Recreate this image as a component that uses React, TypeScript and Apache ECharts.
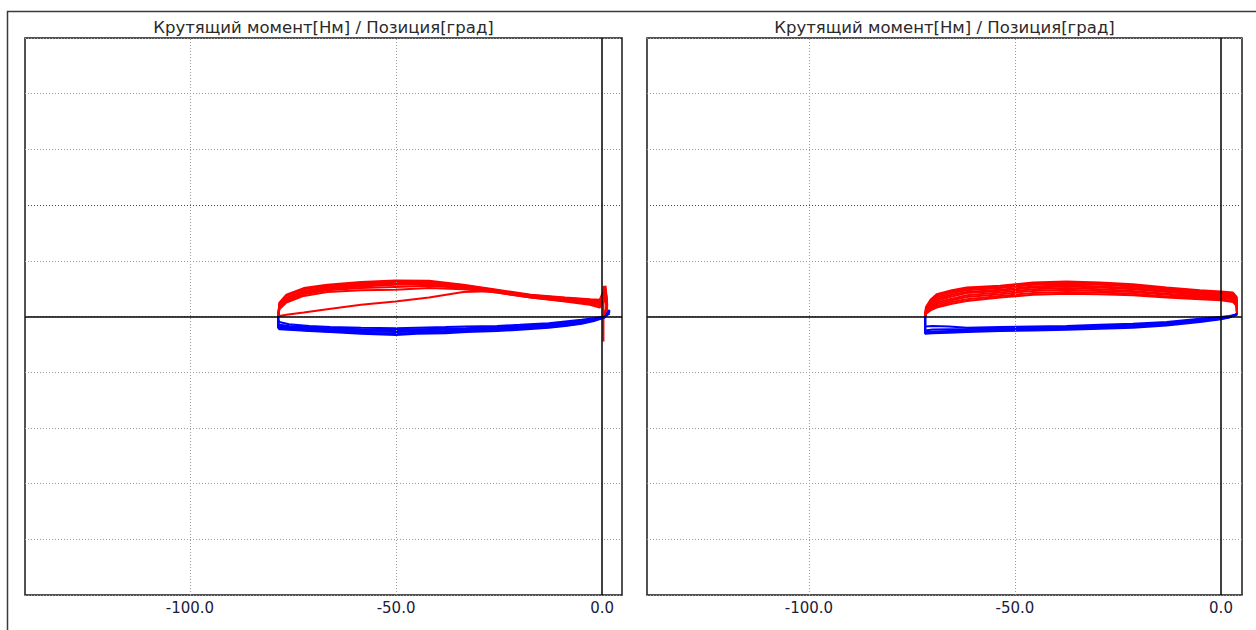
import React, { useEffect, useRef } from "react";
import * as echarts from "echarts";

const TITLE = "Крутящий момент[Нм] / Позиция[град]";
const X_TICKS = [-100, -50, 0];
const LIMIT_Y = 2;

// Left chart — red (positive torque) cycles
const leftRedX = [-78.6, -78.3, -76.6, -72.4, -66.7, -58.5, -50.2, -42, -33.7, -25.5, -17.3, -9, -3, -0.6, 0.8, 1.2, 0.5];
const leftRedCycles = [
  [0.0, 0.25, 0.39, 0.51, 0.57, 0.62, 0.645, 0.64, 0.57, 0.48, 0.39, 0.34, 0.31, 0.3, 0.55, 0.25, 0.0],
  [0.0, 0.23, 0.37, 0.49, 0.55, 0.6, 0.63, 0.62, 0.56, 0.47, 0.38, 0.33, 0.3, 0.28, 0.5, 0.22, 0.0],
  [0.0, 0.21, 0.34, 0.46, 0.53, 0.58, 0.61, 0.6, 0.55, 0.46, 0.37, 0.32, 0.28, 0.26, 0.45, 0.2, 0.0],
  [0.0, 0.19, 0.32, 0.44, 0.51, 0.56, 0.59, 0.59, 0.54, 0.45, 0.36, 0.3, 0.26, 0.24, 0.42, 0.18, 0.0],
  [0.0, 0.17, 0.3, 0.42, 0.49, 0.54, 0.57, 0.58, 0.53, 0.44, 0.35, 0.29, 0.25, 0.22, 0.38, 0.15, 0.0],
  [0.0, 0.15, 0.27, 0.4, 0.47, 0.51, 0.53, 0.55, 0.51, 0.43, 0.34, 0.28, 0.23, 0.19, 0.34, 0.12, 0.0],
  [0.0, 0.13, 0.25, 0.37, 0.44, 0.47, 0.48, 0.51, 0.49, 0.43, 0.34, 0.27, 0.21, 0.16, 0.3, 0.1, 0.0],
  [0.0, 0.01, 0.03, 0.07, 0.13, 0.21, 0.27, 0.34, 0.44, 0.46, 0.37, 0.3, 0.27, 0.24, 0.5, 0.2, 0.0],
];
const leftSpikeX = [0.3, 0.3];
const leftSpikeY = [0.55, -0.45];

// Left chart — blue (negative torque) cycles
const leftBlueX = [1.8, 0.5, -2, -5, -9, -13, -20, -25.5, -33, -38, -45, -50, -58.5, -66, -71, -76, -78.3, -78.6, -78.6];
const leftBlueCycles = [
  [0.12, -0.02, -0.08, -0.13, -0.17, -0.2, -0.24, -0.26, -0.28, -0.3, -0.31, -0.33, -0.31, -0.28, -0.26, -0.24, -0.23, -0.2, 0.0],
  [0.11, -0.02, -0.07, -0.12, -0.16, -0.19, -0.22, -0.24, -0.26, -0.28, -0.29, -0.31, -0.29, -0.27, -0.25, -0.23, -0.22, -0.19, 0.0],
  [0.1, -0.01, -0.06, -0.1, -0.14, -0.17, -0.2, -0.22, -0.24, -0.26, -0.27, -0.28, -0.27, -0.25, -0.23, -0.21, -0.2, -0.17, 0.0],
  [0.09, -0.01, -0.05, -0.09, -0.13, -0.16, -0.19, -0.21, -0.23, -0.24, -0.25, -0.26, -0.25, -0.23, -0.21, -0.19, -0.18, -0.14, 0.0],
  [0.08, -0.01, -0.05, -0.08, -0.11, -0.14, -0.17, -0.19, -0.21, -0.22, -0.23, -0.24, -0.23, -0.21, -0.19, -0.17, -0.15, -0.12, 0.0],
  [0.05, 0.0, -0.03, -0.06, -0.09, -0.12, -0.15, -0.17, -0.18, -0.19, -0.2, -0.21, -0.2, -0.19, -0.17, -0.14, -0.1, -0.06, 0.0],
];

// Right chart — red cycles
const rightRedX = [-71.8, -71.6, -70.5, -69, -65.3, -61.7, -53.6, -45.6, -37.5, -29.4, -21.4, -13.2, -5.1, 0, 2.9, 3.8, 3.9];
const rightRedCycles = [
  [0.0, 0.17, 0.3, 0.4, 0.47, 0.52, 0.55, 0.61, 0.63, 0.61, 0.58, 0.52, 0.47, 0.45, 0.43, 0.35, 0.03],
  [0.0, 0.15, 0.27, 0.37, 0.45, 0.5, 0.53, 0.59, 0.61, 0.59, 0.56, 0.5, 0.45, 0.43, 0.41, 0.33, 0.03],
  [0.0, 0.13, 0.25, 0.34, 0.42, 0.47, 0.51, 0.57, 0.59, 0.57, 0.54, 0.48, 0.43, 0.41, 0.39, 0.3, 0.03],
  [0.0, 0.11, 0.22, 0.31, 0.39, 0.44, 0.48, 0.54, 0.56, 0.54, 0.51, 0.46, 0.41, 0.39, 0.37, 0.28, 0.03],
  [0.0, 0.1, 0.2, 0.28, 0.36, 0.42, 0.46, 0.52, 0.54, 0.52, 0.49, 0.44, 0.39, 0.37, 0.35, 0.26, 0.03],
  [0.0, 0.08, 0.17, 0.25, 0.32, 0.38, 0.43, 0.49, 0.51, 0.49, 0.46, 0.41, 0.37, 0.35, 0.33, 0.24, 0.03],
  [0.0, 0.07, 0.15, 0.22, 0.29, 0.35, 0.4, 0.46, 0.48, 0.46, 0.44, 0.39, 0.35, 0.33, 0.31, 0.22, 0.03],
  [0.0, 0.06, 0.13, 0.19, 0.26, 0.31, 0.37, 0.42, 0.44, 0.43, 0.41, 0.36, 0.33, 0.31, 0.28, 0.2, 0.03],
  [0.0, 0.05, 0.11, 0.16, 0.23, 0.28, 0.34, 0.39, 0.41, 0.4, 0.38, 0.34, 0.31, 0.29, 0.26, 0.19, 0.03],
];

// Right chart — blue cycles
const rightBlueX = [3.9, 2, 0, -5.1, -13.2, -21.4, -29.4, -37.5, -45.6, -53.6, -61.7, -66, -70, -71.8, -71.8];
const rightBlueCycles = [
  [0.05, -0.02, -0.05, -0.1, -0.16, -0.2, -0.22, -0.24, -0.25, -0.26, -0.28, -0.29, -0.3, -0.31, 0.0],
  [0.045, -0.015, -0.04, -0.085, -0.145, -0.185, -0.205, -0.225, -0.235, -0.245, -0.265, -0.275, -0.285, -0.3, 0.0],
  [0.04, -0.01, -0.03, -0.07, -0.13, -0.17, -0.19, -0.21, -0.22, -0.23, -0.25, -0.26, -0.27, -0.28, 0.0],
  [0.035, 0.0, -0.02, -0.055, -0.115, -0.15, -0.17, -0.19, -0.2, -0.21, -0.225, -0.23, -0.235, -0.25, 0.0],
  [0.03, 0.01, -0.01, -0.04, -0.1, -0.13, -0.15, -0.17, -0.18, -0.19, -0.2, -0.18, -0.17, -0.18, 0.0],
];

const RED = "#ff0000";
const BLUE = "#0000ff";

const zip = (xs: number[], ys: number[]) => xs.map((x, i) => [x, ys[i]]);

function lineSeries(idx: number, xs: number[], ys: number[], color: string, z: number) {
  return {
    type: "line",
    xAxisIndex: idx,
    yAxisIndex: idx,
    data: zip(xs, ys),
    showSymbol: false,
    symbol: "none",
    silent: true,
    z,
    lineStyle: { color, width: 2 },
  };
}

function guideSeries(idx: number) {
  const grey = { color: "#9a9a9a", width: 1, type: [1, 2] };
  return {
    type: "line",
    xAxisIndex: idx,
    yAxisIndex: idx,
    data: [],
    silent: true,
    z: 1,
    markLine: {
      symbol: ["none", "none"],
      silent: true,
      animation: false,
      label: { show: false },
      data: [
        ...X_TICKS.filter((v) => v !== 0).map((v) => ({ xAxis: v, lineStyle: grey })),
        { yAxis: LIMIT_Y, lineStyle: { color: "#ff0000", width: 1, type: [1, 2] } },
        { xAxis: 0, lineStyle: { color: "#000", width: 1.5, type: "solid" } },
        { yAxis: 0, lineStyle: { color: "#000", width: 1.5, type: "solid" } },
      ],
    },
  };
}

export default function App() {
  const ref = useRef<HTMLDivElement>(null);
  useEffect(() => {
    if (!ref.current) return;
    const chart = echarts.init(ref.current, null, { renderer: "svg" });
    const grids = [
      { left: 25, top: 38, width: 597, height: 557 },
      { left: 647, top: 38, width: 595, height: 557 },
    ];
    const xRanges = [
      [-140, 4.8],
      [-139.3, 5.1],
    ];
    const series: any[] = [guideSeries(0), guideSeries(1)];
    leftRedCycles.forEach((ys) => series.push(lineSeries(0, leftRedX, ys, RED, 3)));
    series.push(lineSeries(0, leftSpikeX, leftSpikeY, RED, 3));
    leftBlueCycles.forEach((ys) => series.push(lineSeries(0, leftBlueX, ys, BLUE, 4)));
    rightRedCycles.forEach((ys) => series.push(lineSeries(1, rightRedX, ys, RED, 3)));
    rightBlueCycles.forEach((ys) => series.push(lineSeries(1, rightBlueX, ys, BLUE, 4)));

    const titleStyle = {
      text: TITLE,
      fill: "#2a2a2a",
      font: '16.5px "DejaVu Sans"',
      align: "center",
      verticalAlign: "middle",
    };

    chart.setOption({
      animation: false,
      backgroundColor: "#ffffff",
      grid: grids.map((g) => ({ ...g, show: true, borderColor: "#1a1a1a", borderWidth: 1.5, backgroundColor: "transparent" })),
      xAxis: xRanges.map((r, i) => ({
        type: "value",
        gridIndex: i,
        min: r[0],
        max: r[1],
        axisLine: { show: false },
        axisTick: { show: false },
        splitLine: { show: false },
        axisLabel: {
          customValues: X_TICKS,
          formatter: (v: number) => v.toFixed(1),
          color: "#1c1c3c",
          fontFamily: "DejaVu Sans",
          fontSize: 15,
          margin: 5,
        },
      })),
      yAxis: [0, 1].map((i) => ({
        type: "value",
        gridIndex: i,
        min: -5,
        max: 5,
        interval: 1,
        axisLine: { show: false },
        axisTick: { show: false },
        axisLabel: { show: false },
        splitLine: { show: true, lineStyle: { color: "#9a9a9a", width: 1, type: [1, 2] } },
      })),
      graphic: [
        {
          type: "rect",
          silent: true,
          shape: { x: 7.5, y: 11.5, width: 1300, height: 700 },
          style: { fill: "none", stroke: "#3a3a3a", lineWidth: 1.5 },
        },
        { type: "text", x: 323.5, y: 27, silent: true, style: titleStyle },
        { type: "text", x: 944.5, y: 27, silent: true, style: titleStyle },
      ],
      series,
    });
    return () => chart.dispose();
  }, []);
  return (
    <div
      ref={ref}
      style={{ position: "fixed", left: 0, top: 0, width: 1256, height: 630, background: "#fff" }}
    />
  );
}
